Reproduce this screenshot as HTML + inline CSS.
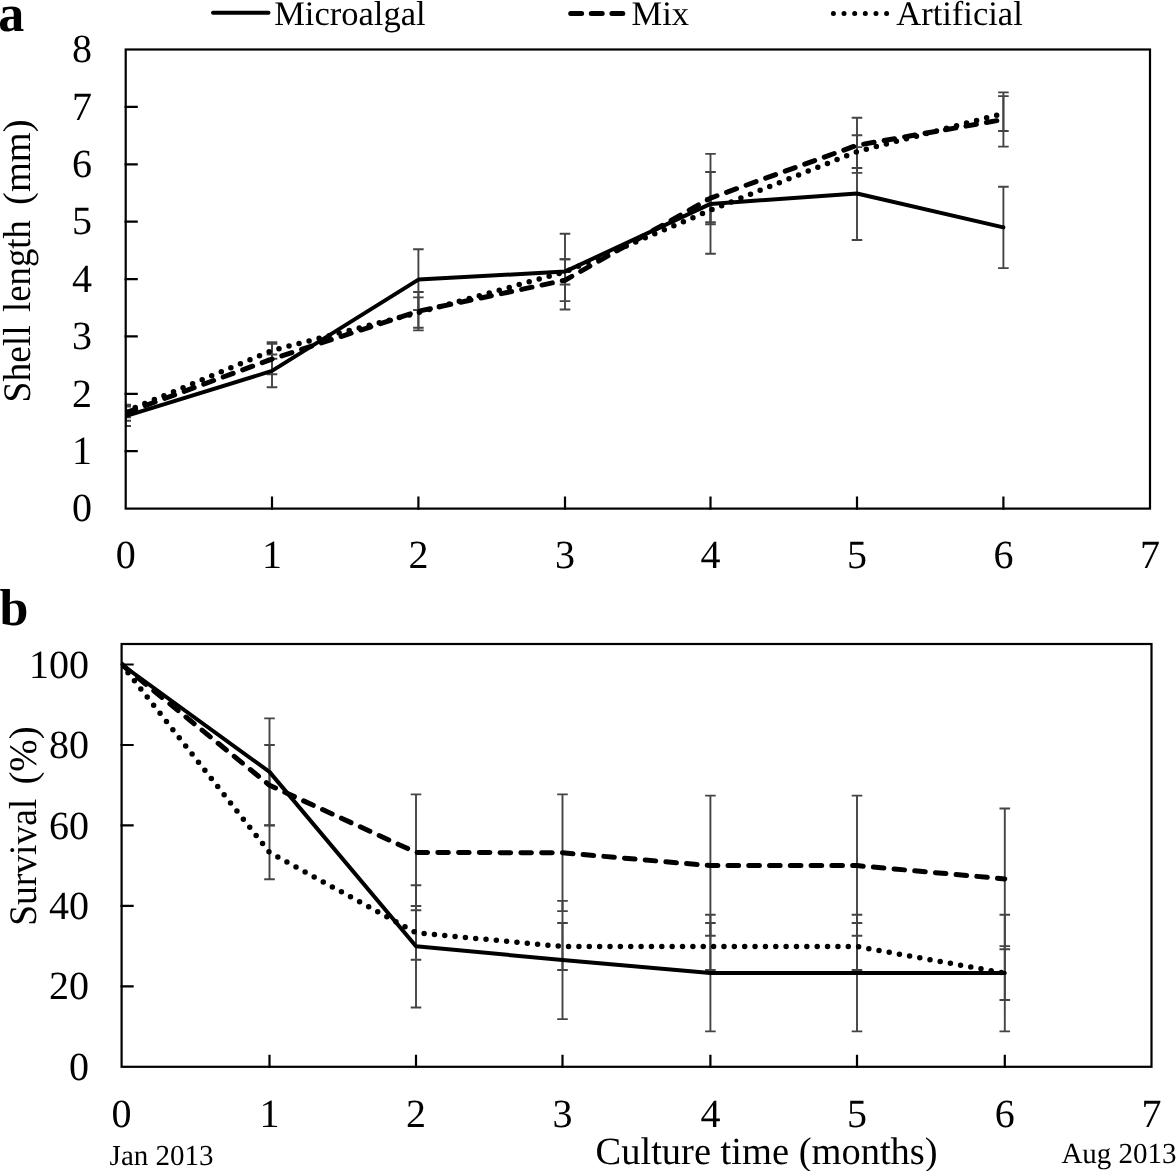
<!DOCTYPE html><html><head><meta charset="utf-8"><style>html,body{margin:0;padding:0;background:#fff;overflow:hidden}svg{display:block;will-change:transform}text{font-family:"Liberation Serif",serif;text-rendering:geometricPrecision}</style></head><body>
<svg width="1176" height="1171" viewBox="0 0 1176 1171">
<rect width="1176" height="1171" fill="#fff"/>
<clipPath id="ca"><rect x="125.7" y="49.5" width="1024.3" height="459.1"/></clipPath>
<g clip-path="url(#ca)" stroke="#444" stroke-width="1.9" fill="none">
<path d="M125.7 406.5V426.0M120.4 406.5H131.0M120.4 426.0H131.0"/>
<path d="M272.0 354.5V387.2M266.7 354.5H277.3M266.7 387.2H277.3"/>
<path d="M418.4 249.2V310.0M413.1 249.2H423.7M413.1 310.0H423.7"/>
<path d="M565.0 233.7V309.5M559.7 233.7H570.3M559.7 309.5H570.3"/>
<path d="M710.5 153.9V253.8M705.2 153.9H715.8M705.2 253.8H715.8"/>
<path d="M857.0 147.1V240.0M851.7 147.1H862.3M851.7 240.0H862.3"/>
<path d="M1003.4 186.7V268.1M998.1 186.7H1008.7M998.1 268.1H1008.7"/>
<path d="M125.7 404.7V420.8M120.4 404.7H131.0M120.4 420.8H131.0"/>
<path d="M272.0 343.9V374.3M266.7 343.9H277.3M266.7 374.3H277.3"/>
<path d="M418.4 292.0V330.4M413.1 292.0H423.7M413.1 330.4H423.7"/>
<path d="M565.0 259.3V301.1M559.7 259.3H570.3M559.7 301.1H570.3"/>
<path d="M710.5 172.0V224.2M705.2 172.0H715.8M705.2 224.2H715.8"/>
<path d="M857.0 117.8V172.9M851.7 117.8H862.3M851.7 172.9H862.3"/>
<path d="M1003.4 92.4V146.6M998.1 92.4H1008.7M998.1 146.6H1008.7"/>
<path d="M125.7 405.9V417.4M120.4 405.9H131.0M120.4 417.4H131.0"/>
<path d="M272.0 342.2V358.8M266.7 342.2H277.3M266.7 358.8H277.3"/>
<path d="M418.4 297.4V327.8M413.1 297.4H423.7M413.1 327.8H423.7"/>
<path d="M565.0 259.3V284.5M559.7 259.3H570.3M559.7 284.5H570.3"/>
<path d="M710.5 198.1V222.2M705.2 198.1H715.8M705.2 222.2H715.8"/>
<path d="M857.0 135.3V168.0M851.7 135.3H862.3M851.7 168.0H862.3"/>
<path d="M1003.4 96.1V131.0M998.1 96.1H1008.7M998.1 131.0H1008.7"/>
</g>
<g clip-path="url(#ca)" fill="none" stroke="#000" stroke-linecap="round" stroke-linejoin="round">
<polyline points="125.7,416.2 272.0,370.9 418.4,279.6 565.0,271.6 710.5,203.9 857.0,193.5 1003.4,227.4" stroke-width="4"/>
<polyline points="125.7,412.8 272.0,359.1 418.4,311.2 565.0,280.2 710.5,198.1 857.0,145.3 1003.4,119.5" stroke-width="5" stroke-dasharray="10.6 10.17"/>
<polyline points="125.7,411.6 272.0,350.5 418.4,312.6 565.0,271.9 710.5,210.2 857.0,151.6 1003.4,113.5" stroke-width="5.5" stroke-dasharray="0 10.36"/>
</g>
<g stroke="#000" stroke-width="2.2" fill="none" stroke-linecap="square">
<rect x="125.7" y="49.5" width="1024.3" height="459.1"/>
<path d="M125.7 451.2H136.7M125.7 393.8H136.7M125.7 336.4H136.7M125.7 279.1H136.7M125.7 221.7H136.7M125.7 164.3H136.7M125.7 106.9H136.7M272.0 508.6V497.6M418.4 508.6V497.6M565.0 508.6V497.6M710.5 508.6V497.6M857.0 508.6V497.6M1003.4 508.6V497.6"/>
</g>
<g font-family='Liberation Serif' font-size="40" fill="#000">
<text x="92" y="521.3" text-anchor="end">0</text>
<text x="92" y="463.9" text-anchor="end">1</text>
<text x="92" y="406.5" text-anchor="end">2</text>
<text x="92" y="349.1" text-anchor="end">3</text>
<text x="92" y="291.8" text-anchor="end">4</text>
<text x="92" y="234.4" text-anchor="end">5</text>
<text x="92" y="177.0" text-anchor="end">6</text>
<text x="92" y="119.6" text-anchor="end">7</text>
<text x="92" y="62.2" text-anchor="end">8</text>
<text x="125.7" y="567.7" text-anchor="middle">0</text>
<text x="272.0" y="567.7" text-anchor="middle">1</text>
<text x="418.4" y="567.7" text-anchor="middle">2</text>
<text x="565.0" y="567.7" text-anchor="middle">3</text>
<text x="710.5" y="567.7" text-anchor="middle">4</text>
<text x="857.0" y="567.7" text-anchor="middle">5</text>
<text x="1003.4" y="567.7" text-anchor="middle">6</text>
<text x="1150.0" y="567.7" text-anchor="middle">7</text>
</g>
<clipPath id="cb"><rect x="121.6" y="644.0" width="1029.9" height="422.79999999999995"/></clipPath>
<g clip-path="url(#cb)" stroke="#444" stroke-width="1.9" fill="none">
<path d="M269.5 718.4V825.4M264.2 718.4H274.8M264.2 825.4H274.8"/>
<path d="M416.0 885.2V1007.5M410.7 885.2H421.3M410.7 1007.5H421.3"/>
<path d="M562.5 900.9V1019.1M557.2 900.9H567.8M557.2 1019.1H567.8"/>
<path d="M710.4 914.7V1031.4M705.1 914.7H715.7M705.1 1031.4H715.7"/>
<path d="M857.0 914.7V1031.4M851.7 914.7H862.3M851.7 1031.4H862.3"/>
<path d="M1004.8 914.7V1031.4M999.5 914.7H1010.1M999.5 1031.4H1010.1"/>
<path d="M269.5 745.0V825.4M264.2 745.0H274.8M264.2 825.4H274.8"/>
<path d="M416.0 794.4V910.3M410.7 794.4H421.3M410.7 910.3H421.3"/>
<path d="M562.5 794.4V911.1M557.2 794.4H567.8M557.2 911.1H567.8"/>
<path d="M710.4 795.6V935.7M705.1 795.6H715.7M705.1 935.7H715.7"/>
<path d="M857.0 795.6V935.7M851.7 795.6H862.3M851.7 935.7H862.3"/>
<path d="M1004.8 808.5V949.3M999.5 808.5H1010.1M999.5 949.3H1010.1"/>
<path d="M269.5 825.4V879.3M264.2 825.4H274.8M264.2 879.3H274.8"/>
<path d="M416.0 906.0V959.7M410.7 906.0H421.3M410.7 959.7H421.3"/>
<path d="M562.5 923.0V970.0M557.2 923.0H567.8M557.2 970.0H567.8"/>
<path d="M710.4 923.0V970.0M705.1 923.0H715.7M705.1 970.0H715.7"/>
<path d="M857.0 923.0V970.0M851.7 923.0H862.3M851.7 970.0H862.3"/>
<path d="M1004.8 946.1V1000.0M999.5 946.1H1010.1M999.5 1000.0H1010.1"/>
</g>
<g clip-path="url(#cb)" fill="none" stroke="#000" stroke-linecap="round" stroke-linejoin="round">
<polyline points="121.6,664.5 269.5,771.9 416.0,946.3 562.5,960.0 710.4,973.1 857.0,973.1 1004.8,973.1" stroke-width="4"/>
<polyline points="121.6,664.5 269.5,785.2 416.0,852.4 562.5,852.8 710.4,865.6 857.0,865.6 1004.8,878.9" stroke-width="5" stroke-dasharray="10.6 10.17"/>
<polyline points="121.6,664.5 269.5,852.4 416.0,932.8 562.5,946.5 710.4,946.5 857.0,946.5 1004.8,973.1" stroke-width="5.5" stroke-dasharray="0 10.36"/>
</g>
<g stroke="#000" stroke-width="2.2" fill="none" stroke-linecap="square">
<rect x="121.6" y="644.0" width="1029.9" height="422.79999999999995"/>
<path d="M121.6 986.3H132.6M121.6 905.9H132.6M121.6 825.4H132.6M121.6 745.0H132.6M121.6 664.5H132.6M269.5 1066.8V1055.8M416.0 1066.8V1055.8M562.5 1066.8V1055.8M710.4 1066.8V1055.8M857.0 1066.8V1055.8M1004.8 1066.8V1055.8"/>
</g>
<g font-family='Liberation Serif' font-size="40" fill="#000">
<text x="89" y="1079.9" text-anchor="end">0</text>
<text x="89" y="999.4" text-anchor="end">20</text>
<text x="89" y="919.0" text-anchor="end">40</text>
<text x="89" y="838.5" text-anchor="end">60</text>
<text x="89" y="758.1" text-anchor="end">80</text>
<text x="89" y="677.6" text-anchor="end">100</text>
<text x="121.6" y="1127.4" text-anchor="middle">0</text>
<text x="269.5" y="1127.4" text-anchor="middle">1</text>
<text x="416.0" y="1127.4" text-anchor="middle">2</text>
<text x="562.5" y="1127.4" text-anchor="middle">3</text>
<text x="710.4" y="1127.4" text-anchor="middle">4</text>
<text x="857.0" y="1127.4" text-anchor="middle">5</text>
<text x="1004.8" y="1127.4" text-anchor="middle">6</text>
<text x="1151.5" y="1127.4" text-anchor="middle">7</text>
</g>
<text x="-1.8" y="30.8" font-family='Liberation Serif' font-weight="bold" font-size="52">a</text>
<text x="-0.5" y="625.1" font-family='Liberation Serif' font-weight="bold" font-size="52">b</text>
<text transform="translate(30.3,402.4) rotate(-90)" font-family='Liberation Serif' font-size="39" textLength="76.96" lengthAdjust="spacingAndGlyphs">Shell</text>
<text transform="translate(30.3,311.9) rotate(-90)" font-family='Liberation Serif' font-size="39" textLength="91.73" lengthAdjust="spacingAndGlyphs">length</text>
<text transform="translate(30.3,204.9) rotate(-90)" font-family='Liberation Serif' font-size="39" textLength="85.45" lengthAdjust="spacingAndGlyphs">(mm)</text>
<text transform="translate(35.9,925.7) rotate(-90)" font-family='Liberation Serif' font-size="39" textLength="126.9" lengthAdjust="spacingAndGlyphs">Survival</text>
<text transform="translate(35.9,784.6) rotate(-90)" font-family='Liberation Serif' font-size="39" textLength="58.35" lengthAdjust="spacingAndGlyphs">(%)</text>
<text x="595.5" y="1163.6" font-family='Liberation Serif' font-size="38.5">Culture time (months)</text>
<text x="109.6" y="1165" font-family='Liberation Serif' font-size="29">Jan 2013</text>
<text x="1061.4" y="1163.1" font-family='Liberation Serif' font-size="29">Aug 2013</text>
<g fill="none" stroke="#000" stroke-linecap="round">
<path d="M213 12.8H268.5" stroke-width="4"/>
<path d="M570.7 13.5H623.2" stroke-width="5" stroke-dasharray="10.9 9.7"/>
<path d="M833.4 13.5H886.8" stroke-width="5" stroke-dasharray="0 10.64"/>
</g>
<g font-family='Liberation Serif' font-size="34.5" fill="#000">
<text x="274.2" y="24.9">Microalgal</text>
<text x="631.5" y="24.9">Mix</text>
<text x="896.3" y="24.9">Artificial</text>
</g>
</svg></body></html>
